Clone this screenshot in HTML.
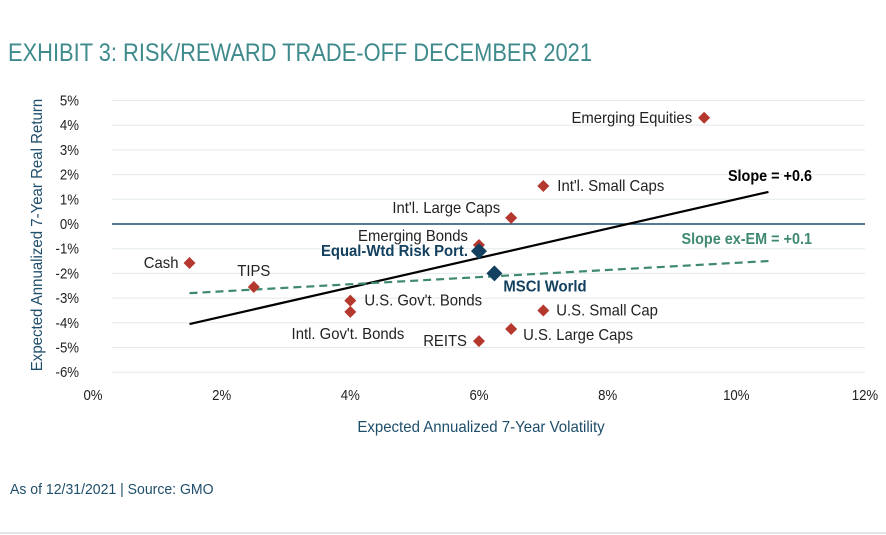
<!DOCTYPE html>
<html><head><meta charset="utf-8"><style>
html,body{margin:0;padding:0;background:#fff;width:886px;height:535px;overflow:hidden}
svg{display:block;font-family:"Liberation Sans Narrow","Liberation Sans",sans-serif}
</style></head><body>
<svg id="chart" width="886" height="535">
<text x="8" y="61" font-size="25" fill="#3f8a8c" textLength="584" lengthAdjust="spacingAndGlyphs">EXHIBIT 3: RISK/REWARD TRADE-OFF DECEMBER 2021</text>
<g id="grid"></g><g id="axes"></g><g id="lines"></g><g id="marks"></g>
<text transform="translate(481,432) scale(0.97,1)" font-size="15.5" fill="#1f4e6b" text-anchor="middle">Expected Annualized 7-Year Volatility</text>
<text transform="translate(42,235) rotate(-90) scale(0.97,1)" font-size="15.5" fill="#1f4e6b" text-anchor="middle">Expected Annualized 7-Year Real Return</text>
<text transform="translate(10,494) scale(0.97,1)" font-size="14.5" fill="#1f4e6b">As of 12/31/2021 | Source: GMO</text>
<line x1="0" y1="533" x2="886" y2="533" stroke="#d5dde3" stroke-width="1.5"/>
</svg>
<script>
const xTicks=[0,2,4,6,8,10,12];
const yTicks=[5,4,3,2,1,0,-1,-2,-3,-4,-5,-6];
const names=["Emerging Equities","Int'l. Small Caps","Int'l. Large Caps","Emerging Bonds","Equal-Wtd Risk Port.","MSCI World","Cash","TIPS","U.S. Gov't. Bonds","Intl. Gov't. Bonds","U.S. Small Cap","U.S. Large Caps","REITS"];
const vols=[9.5,7.0,6.5,6.0,6.0,6.24,1.5,2.5,4.0,4.0,7.0,6.5,6.0];
const rets=[4.3,1.54,0.25,-0.85,-1.1,-2.0,-1.58,-2.55,-3.1,-3.56,-3.5,-4.25,-4.74];
const slopeAll=[[1.5,-4.05],[10.5,1.3]];
const slopeExEm=[[1.5,-2.8],[10.5,-1.5]];
const NS="http://www.w3.org/2000/svg";
const X=v=>93+v*64.33, Y=v=>224-v*24.7;
function mk(tag,attrs,parent,text){const e=document.createElementNS(NS,tag);for(const k in attrs)e.setAttribute(k,attrs[k]);if(text!==undefined)e.textContent=text;document.getElementById(parent).appendChild(e);return e;}
function txt(x,y,sx,attrs,parent,text){attrs.transform=`translate(${x},${y}) scale(${sx},1)`;return mk('text',attrs,parent,text);}
yTicks.forEach(t=>{
  if(t!==0){const g=mk('line',{x1:112,x2:865,y1:Y(t),y2:Y(t),stroke:'#e3eaee','stroke-width':1},'grid');
  
  }
  const l=txt(79,Y(t)+5,0.88,{'font-size':15,fill:'#222','text-anchor':'end'},'axes',t+'%');
  
  
});
const z=mk('line',{x1:112,x2:865,y1:Y(0),y2:Y(0),stroke:'#1f4e6b','stroke-width':1.6},'axes');


xTicks.forEach(t=>{
  const l=txt(X(t),400,0.88,{'font-size':15,fill:'#222','text-anchor':'middle'},'axes',t+'%');
  
  
});
const s1=mk('line',{x1:X(slopeAll[0][0]),y1:Y(slopeAll[0][1]),x2:X(slopeAll[1][0]),y2:Y(slopeAll[1][1]),stroke:'#000','stroke-width':2.2},'lines');


const s2=mk('line',{x1:X(slopeExEm[0][0]),y1:Y(slopeExEm[0][1]),x2:X(slopeExEm[1][0]),y2:Y(slopeExEm[1][1]),stroke:'#3f8a6e','stroke-width':2.2,'stroke-dasharray':'8,5'},'lines');


const t1=txt(812,181,0.93,{'font-size':15.5,'font-weight':'bold',fill:'#000','text-anchor':'end'},'lines','Slope = +0.6');


const t2=txt(812,244,0.93,{'font-size':15.5,'font-weight':'bold',fill:'#3f8a6e','text-anchor':'end'},'lines','Slope ex-EM = +0.1');


// label placement: [anchor, dx, dy]
const place=[["end",-12,5],["start",14,5],["end",-11,-5],["end",-11,-4],["end",-11,5],["start",9,18],["end",-11,5],["middle",0,-11],["start",14,5],["end",54,27],["start",13,5],["start",12,11],["end",-12,5]];
names.forEach((n,i)=>{
  const px=X(vols[i]),py=Y(rets[i]);
  const big=(n==="Equal-Wtd Risk Port."||n==="MSCI World");
  const r=big?8:6;
  const d=mk('polygon',{points:`${px},${py-r} ${px+r},${py} ${px},${py+r} ${px-r},${py}`,fill:big?'#12405e':'#b5382e'},'marks');
  
  
  const p=place[i];
  const l=txt(px+p[1],py+p[2],0.93,{'font-size':16,fill:big?'#12405e':'#222','font-weight':big?'bold':'normal','text-anchor':p[0]},'marks',n);
  
  
});
</script>
</body></html>
